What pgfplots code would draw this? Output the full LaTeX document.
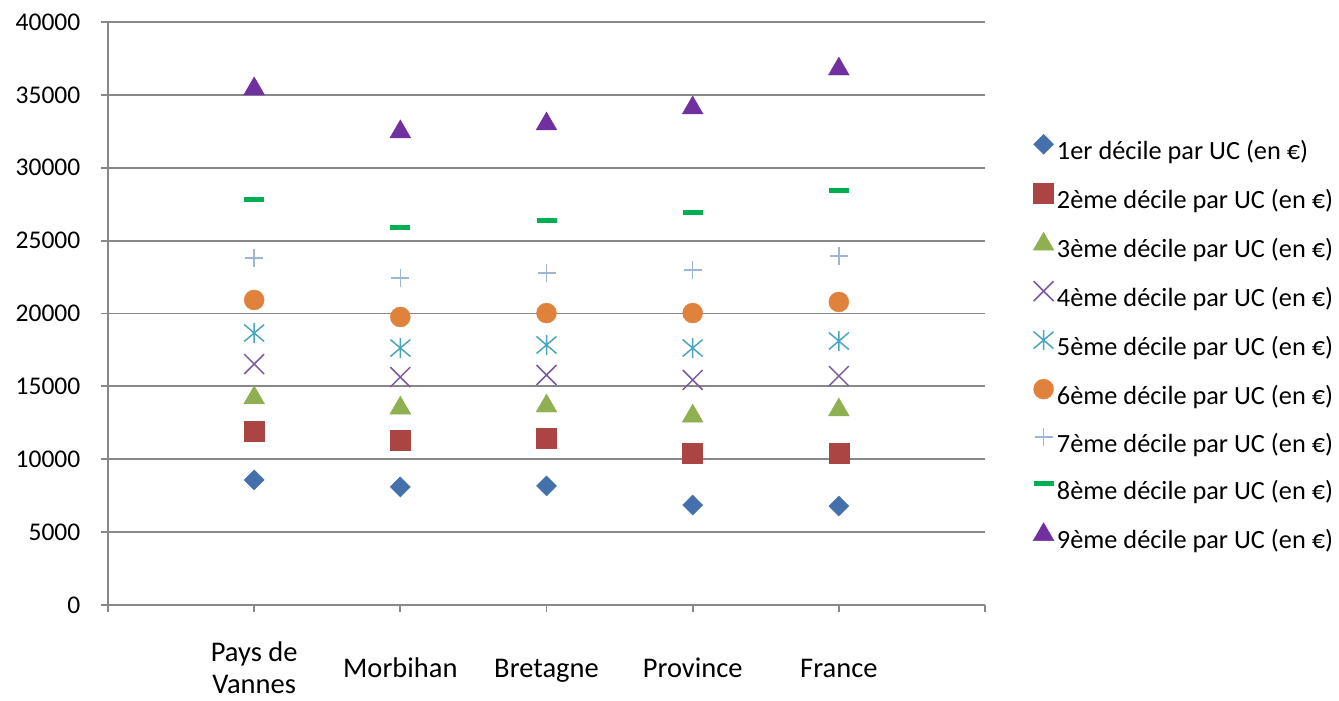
\documentclass[border=0pt]{standalone}
\usepackage{fontspec}
\setmainfont{Carlito}
\usepackage{pgfplots}
\pgfplotsset{compat=1.18}
\usepackage{pgfplotstable}

\definecolor{c1}{HTML}{4470AB}
\definecolor{c2}{HTML}{AA4543}
\definecolor{c3}{HTML}{8FB050}
\definecolor{c4}{HTML}{7A5A9C}
\definecolor{c5}{HTML}{4AA5BE}
\definecolor{c6}{HTML}{E0823C}
\definecolor{c7}{HTML}{9DB5D9}
\definecolor{c8}{HTML}{00B050}
\definecolor{c9}{HTML}{7030A0}
\definecolor{gridgray}{HTML}{888888}

\pgfdeclareplotmark{xstar}{%
  \pgfpathmoveto{\pgfqpoint{0pt}{-\pgfplotmarksize}}%
  \pgfpathlineto{\pgfqpoint{0pt}{\pgfplotmarksize}}%
  \pgfpathmoveto{\pgfqpoint{-\pgfplotmarksize}{-0.85\pgfplotmarksize}}%
  \pgfpathlineto{\pgfqpoint{\pgfplotmarksize}{0.85\pgfplotmarksize}}%
  \pgfpathmoveto{\pgfqpoint{-\pgfplotmarksize}{0.85\pgfplotmarksize}}%
  \pgfpathlineto{\pgfqpoint{\pgfplotmarksize}{-0.85\pgfplotmarksize}}%
  \pgfusepathqstroke}

\pgfplotstableread{
x d1 d2 d3 d4 d5 d6 d7 d8 d9
1 8580 11950 14350 16530 18660 20930 23800 27850 35550
2 8100 11320 13650 15640 17630 19760 22440 25930 32600
3 8170 11460 13790 15780 17840 20030 22780 26350 33140
4 6860 10430 13100 15440 17630 20030 22980 26960 34240
5 6790 10430 13520 15710 18110 20790 23950 28470 36910
}\data

\begin{document}
\fontsize{25.5bp}{30bp}\selectfont
\begin{tikzpicture}
\begin{axis}[
  scale only axis,
  width=877bp, height=583bp,
  xmin=0, xmax=6, ymin=0, ymax=40000,
  axis x line=bottom, axis y line=left,
  axis line style={-, gridgray, line width=1.8bp},
  xtick={0,1,2,3,4,5,6},
  xticklabels={,{\strut Pays de\\\strut Vannes},\strut Morbihan,\strut Bretagne,\strut Province,\strut France,},
  ytick={0,5000,...,40000},
  scaled y ticks=false,
  ymajorgrids,
  grid style={gridgray, line width=1.8bp},
  tick align=outside,
  major tick length=7bp,
  tick style={gridgray, line width=1.8bp},
  /pgf/number format/.cd, 1000 sep={}, assume math mode=true, /pgfplots/.cd,
  xticklabel style={align=center, anchor=center, yshift=-59.5bp,
    font=\fontsize{28.5bp}{32bp}\selectfont},
  yticklabel style={xshift=-12bp, font=\fontsize{25.5bp}{30bp}\selectfont},
  legend style={draw=none, fill=none, at={(1,1)}, anchor=north west,
    xshift=45bp, yshift=-110bp, row sep=14.5bp,
    font=\fontsize{26.3bp}{30bp}\selectfont,
    nodes={inner sep=3bp, text height=20bp, text depth=6bp}},
  legend cell align=left,
  legend image code/.code={%
    \draw[mark repeat=2, mark phase=2, #1] plot coordinates {(0bp,8.5bp)(9bp,8.5bp)(18bp,8.5bp)};},
]
\addplot[only marks, mark=square*, mark size=7.1bp, mark options={rotate=45, fill=c1, draw=c1}] table[x=x, y=d1] {\data};
\addlegendentry{1er décile par UC (en €)}
\addplot[only marks, mark=square*, mark size=10bp, mark options={fill=c2, draw=c2}] table[x=x, y=d2] {\data};
\addlegendentry{2ème décile par UC (en €)}
\addplot[only marks, mark=triangle*, mark size=12bp, mark options={fill=c3, draw=c3, yshift=-2bp}] table[x=x, y=d3] {\data};
\addlegendentry{3ème décile par UC (en €)}
\addplot[only marks, mark=x, mark size=14bp, mark options={draw=c4, line width=1.5bp}] table[x=x, y=d4] {\data};
\addlegendentry{4ème décile par UC (en €)}
\addplot[only marks, mark=xstar, mark size=10bp, mark options={draw=c5, line width=1.5bp}] table[x=x, y=d5] {\data};
\addlegendentry{5ème décile par UC (en €)}
\addplot[only marks, mark=*, mark size=10bp, mark options={fill=c6, draw=c6}] table[x=x, y=d6] {\data};
\addlegendentry{6ème décile par UC (en €)}
\addplot[only marks, mark=+, mark size=9bp, mark options={draw=c7, line width=1.5bp}] table[x=x, y=d7] {\data};
\addlegendentry{7ème décile par UC (en €)}
\addplot[only marks, mark=-, mark size=10bp, mark options={draw=c8, line width=5bp}] table[x=x, y=d8] {\data};
\addlegendentry{8ème décile par UC (en €)}
\addplot[only marks, mark=triangle*, mark size=12bp, mark options={fill=c9, draw=c9, yshift=-2bp}] table[x=x, y=d9] {\data};
\addlegendentry{9ème décile par UC (en €)}
\end{axis}
\pgfresetboundingbox
\path (-108bp,-96bp) rectangle (1231bp,605bp);
\end{tikzpicture}
\end{document}
